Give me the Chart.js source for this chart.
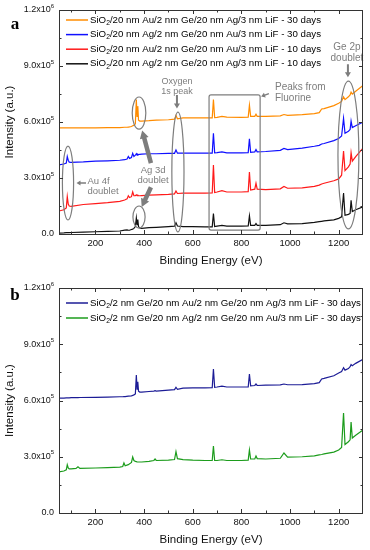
<!DOCTYPE html>
<html>
<head>
<meta charset="utf-8">
<script src="https://cdn.jsdelivr.net/npm/chart.js@4.4.1/dist/chart.umd.min.js"></script>
<style>
  html, body { margin: 0; padding: 0; background: #fff; }
  .panel { position: relative; width: 370px; }
  canvas { display: block; }
</style>
</head>
<body>
<div class="panel" style="height:270px"><canvas id="chartA"></canvas></div>
<div class="panel" style="height:280px"><canvas id="chartB"></canvas></div>
<script>
// intensities are in units of 1e5 counts
const energyA = [50,70,80,84,88,92,100, 150,200,250,300, 320,330,335,340,348,353,358,364,
  368,371,374,377,382,390, 420,450,500,525,531,537,560, 600,650,680,685,690,700,720,740,
  800,828,833,838,855,860,865, 900,960,975,990, 1050,1100,1120,1130,1140,1180,1200,
  1212,1220,1226,1240,1247,1251,1256,1270,1300];

const auAg30 = [5.68,5.68,5.68,5.68,5.68,5.68,5.68, 5.68,5.69,5.7,5.7, 5.72,5.72,5.73,5.74,5.76,5.8,5.82,5.9,
  7.2,6.3,6.85,6.1,6.05,6.05, 6.07,6.1,6.12,6.15,6.35,6.17,6.22, 6.22,6.22,6.22,7.2,6.24,6.25,6.3,6.26,
  6.25,6.26,6.9,6.3,6.3,6.42,6.3, 6.3,6.33,6.4,6.36, 6.4,6.45,6.5,6.7,6.72,6.88,7.0,
  7.1,7.35,7.2,7.35,7.45,7.6,7.5,7.65,7.95];
const agAu30 = [3.7,3.75,3.8,4.15,3.95,3.85,3.84, 3.86,3.9,3.92,3.95, 3.98,4.02,4.15,4.05,4.1,4.32,4.15,4.22,
  4.3,4.22,4.28,4.25,4.27,4.28, 4.3,4.3,4.32,4.32,4.5,4.33,4.33, 4.33,4.33,4.33,5.4,4.35,4.36,4.4,4.35,
  4.35,4.36,5.1,4.38,4.4,4.52,4.4, 4.42,4.48,4.58,4.52, 4.6,4.7,4.75,4.82,4.85,5.0,5.12,
  5.25,6.2,5.4,5.5,5.6,6.05,5.7,5.8,6.0];
const auAu10 = [1.23,1.3,1.4,2.0,1.6,1.5,1.48, 1.58,1.63,1.68,1.75, 1.82,1.88,2.05,1.95,2.0,2.25,2.05,2.05,
  2.1,2.06,2.08,2.06,2.05,2.06, 2.08,2.1,2.12,2.15,2.3,2.17,2.19, 2.19,2.19,2.2,3.7,2.22,2.25,2.32,2.25,
  2.25,2.27,3.32,2.35,2.4,2.72,2.4, 2.38,2.42,2.55,2.45, 2.47,2.55,2.62,2.68,2.72,2.85,2.95,
  3.15,4.45,3.4,3.6,3.75,4.35,3.9,4.15,4.6];
const agAg10 = [0.05,0.06,0.07,0.07,0.07,0.07,0.08, 0.1,0.12,0.14,0.16, 0.21,0.22,0.2,0.2,0.24,0.26,0.3,0.4,
  0.86,0.5,0.78,0.4,0.32,0.3, 0.34,0.36,0.4,0.42,0.6,0.43,0.4, 0.4,0.38,0.38,1.1,0.4,0.42,0.46,0.42,
  0.42,0.43,0.97,0.46,0.46,0.56,0.46, 0.46,0.5,0.6,0.54, 0.56,0.62,0.66,0.68,0.7,0.76,0.84,
  0.92,2.2,1.0,1.05,1.1,1.8,1.2,1.3,1.45];

const energyB = [50,70,80,84,88,92,100, 120,128,136, 200,250,300, 312,317,322,335,348,353,358,364,
  368,371,374,377,382,390, 420,440,445,450, 500,525,531,537,560, 600,650,680,685,690,700,720,740,
  800,828,833,838,855,860,865, 900,960,975,990, 1050,1100,1120,1130,1140,1180,1200,
  1212,1220,1226,1240,1247,1251,1256,1270,1300];

const geAuGeAg = [6.13,6.13,6.14,6.14,6.14,6.14,6.15, 6.15,6.15,6.16, 6.17,6.18,6.2, 6.2,6.21,6.21,6.23,6.25,6.27,6.3,6.35,
  7.36,6.6,7.0,6.5,6.45,6.45, 6.48,6.5,6.52,6.5, 6.55,6.58,6.7,6.6,6.66, 6.67,6.67,6.68,7.68,6.7,6.72,6.77,6.72,
  6.72,6.72,7.41,6.78,6.8,6.88,6.8, 6.82,6.83,6.88,6.84, 6.85,6.9,6.95,7.15,7.18,7.32,7.47,
  7.55,7.75,7.62,7.7,7.8,7.92,7.85,7.98,8.2];
const geAgGeAu = [2.19,2.24,2.3,2.57,2.4,2.35,2.35, 2.38,2.46,2.38, 2.4,2.42,2.45, 2.48,2.67,2.52,2.58,2.7,2.99,2.8,2.75,
  2.74,2.73,2.73,2.72,2.72,2.72, 2.75,2.8,2.88,2.8, 2.82,2.85,3.27,2.9,2.85, 2.82,2.8,2.8,3.57,2.8,2.8,2.84,2.8,
  2.8,2.82,3.36,2.88,2.88,3.04,2.9, 2.88,2.92,3.2,2.98, 3.0,3.05,3.1,3.12,3.15,3.25,3.36,
  3.5,5.33,3.65,3.8,3.9,4.85,4.0,4.15,4.43];

const labelsA = [
  'SiO2/20 nm Au/2 nm Ge/20 nm Ag/3 nm LiF - 30 days',
  'SiO2/20 nm Ag/2 nm Ge/20 nm Au/3 nm LiF - 30 days',
  'SiO2/20 nm Au/2 nm Ge/20 nm Au/3 nm LiF - 10 days',
  'SiO2/20 nm Ag/2 nm Ge/20 nm Ag/3 nm LiF - 10 days'
];
const labelsB = [
  'SiO2/2 nm Ge/20 nm Au/2 nm Ge/20 nm Ag/3 nm LiF - 30 days',
  'SiO2/2 nm Ge/20 nm Ag/2 nm Ge/20 nm Au/3 nm LiF - 30 days'
];

const xTicks = [200, 400, 600, 800, 1000, 1200];
const xMinor = [100, 300, 500, 700, 900, 1100];
const yTicks = [0, 3, 6, 9, 12];
const yMinor = [1.5, 4.5, 7.5, 10.5];
const yTickText = ['0.0', '3.0x10', '6.0x10', '9.0x10', '1.2x10'];
const yTickExp = ['', '5', '5', '5', '6'];

// annotations of panel a, in data units (energy, intensity)
const ellipsesA = [
  {e: 87, v: 2.73, de: 23, dv: 1.98},
  {e: 379, v: 6.48, de: 28, dv: 0.86},
  {e: 379, v: 0.91, de: 25, dv: 0.59},
  {e: 539, v: 3.32, de: 25, dv: 3.21},
  {e: 1240, v: 4.23, de: 43, dv: 3.96}
];
const boxA = {e0: 667, e1: 877, v0: 0.21, v1: 7.45};
const notesA = [
  {lines: ['Oxygen', '1s peak'], e: 535, v: 8.16, size: 9, align: 'center'},
  {lines: ['Peaks from', 'Fluorine'], e: 938, v: 7.84, size: 10, align: 'left'},
  {lines: ['Ge 2p', 'doublet'], e: 1234, v: 9.98, size: 10, align: 'center'},
  {lines: ['Au 4f', 'doublet'], e: 167, v: 2.82, size: 9.5, align: 'left'},
  {lines: ['Ag 3d', 'doublet'], e: 437, v: 3.4, size: 9.5, align: 'center'}
];
const arrowsA = [
  {e0: 161, v0: 2.73, e1: 122, v1: 2.73, w: 1.6, hw: 5, hl: 4},
  {e0: 535, v0: 7.45, e1: 535, v1: 6.72, w: 2, hw: 6, hl: 5},
  {e0: 913, v0: 7.52, e1: 881, v1: 7.36, w: 1.4, hw: 5, hl: 4},
  {e0: 1238, v0: 9.1, e1: 1238, v1: 8.4, w: 2, hw: 6, hl: 5},
  {e0: 428, v0: 3.8, e1: 392, v1: 5.55, w: 4.5, hw: 9, hl: 8},
  {e0: 428, v0: 2.5, e1: 390, v1: 1.45, w: 4.5, hw: 9, hl: 8}
];

const FONT = '"Liberation Sans", Arial, sans-serif';
const GREY = '#7d7d7d';

function drawLabel(ctx, text, x, y, size) {
  // SiO2 with subscript 2
  const rest = text.slice(4);
  ctx.font = size + 'px ' + FONT;
  ctx.fillText('SiO', x, y);
  x += ctx.measureText('SiO').width;
  ctx.font = (size * 0.7) + 'px ' + FONT;
  ctx.fillText('2', x, y + 3);
  x += ctx.measureText('2').width;
  ctx.font = size + 'px ' + FONT;
  ctx.fillText(rest, x, y);
}

function arrow(ctx, x0, y0, x1, y1, w, hw, hl) {
  const ang = Math.atan2(y1 - y0, x1 - x0);
  const len = Math.hypot(x1 - x0, y1 - y0);
  ctx.save();
  ctx.translate(x0, y0);
  ctx.rotate(ang);
  ctx.beginPath();
  ctx.moveTo(0, -w / 2);
  ctx.lineTo(len - hl, -w / 2);
  ctx.lineTo(len - hl, -hw / 2);
  ctx.lineTo(len, 0);
  ctx.lineTo(len - hl, hw / 2);
  ctx.lineTo(len - hl, w / 2);
  ctx.lineTo(0, w / 2);
  ctx.closePath();
  ctx.fill();
  ctx.restore();
}

function decoPlugin(cfg) {
  return {
    id: 'deco',
    afterDatasetsDraw(chart) {
      const ctx = chart.ctx;
      const a = chart.chartArea;
      const x = chart.scales.x, y = chart.scales.y;
      ctx.save();

      // annotations
      if (cfg.notes) {
        ctx.strokeStyle = GREY;
        ctx.fillStyle = GREY;
        ctx.lineWidth = 1.2;
        cfg.ellipses.forEach(el => {
          const cx = x.getPixelForValue(el.e), cy = y.getPixelForValue(el.v);
          const rx = x.getPixelForValue(el.e + el.de) - cx;
          const ry = cy - y.getPixelForValue(el.v + el.dv);
          ctx.beginPath();
          ctx.ellipse(cx, cy, rx, ry, 0, 0, Math.PI * 2);
          ctx.stroke();
        });
        const b = cfg.box;
        const bx0 = x.getPixelForValue(b.e0), bx1 = x.getPixelForValue(b.e1);
        const by0 = y.getPixelForValue(b.v1), by1 = y.getPixelForValue(b.v0);
        ctx.beginPath();
        ctx.roundRect(bx0, by0, bx1 - bx0, by1 - by0, 2);
        ctx.stroke();
        cfg.arrows.forEach(ar => {
          arrow(ctx, x.getPixelForValue(ar.e0), y.getPixelForValue(ar.v0),
            x.getPixelForValue(ar.e1), y.getPixelForValue(ar.v1), ar.w, ar.hw, ar.hl);
        });
        ctx.textBaseline = 'middle';
        cfg.notes.forEach(n => {
          ctx.font = n.size + 'px ' + FONT;
          ctx.textAlign = n.align;
          const px = x.getPixelForValue(n.e), py = y.getPixelForValue(n.v);
          n.lines.forEach((t, i) => ctx.fillText(t, px, py + i * (n.size + 0.5)));
        });
      }

      // frame
      ctx.strokeStyle = '#333';
      ctx.lineWidth = 1;
      ctx.strokeRect(Math.round(a.left) + 0.5, Math.round(a.top) + 0.5,
        Math.round(a.right - a.left) - 1, Math.round(a.bottom - a.top));

      // ticks, inward on all four sides
      const tx = (v, len) => {
        const px = Math.round(x.getPixelForValue(v)) + 0.5;
        ctx.beginPath();
        ctx.moveTo(px, a.bottom); ctx.lineTo(px, a.bottom - len);
        ctx.moveTo(px, a.top); ctx.lineTo(px, a.top + len);
        ctx.stroke();
      };
      const ty = (v, len) => {
        const py = Math.round(y.getPixelForValue(v)) + 0.5;
        ctx.beginPath();
        ctx.moveTo(a.left, py); ctx.lineTo(a.left + len, py);
        ctx.moveTo(a.right, py); ctx.lineTo(a.right - len, py);
        ctx.stroke();
      };
      xTicks.forEach(v => tx(v, 4));
      xMinor.forEach(v => tx(v, 2.5));
      yTicks.forEach(v => ty(v, 4));
      yMinor.forEach(v => ty(v, 2.5));

      // tick labels
      ctx.fillStyle = '#111';
      ctx.textBaseline = 'middle';
      ctx.textAlign = 'center';
      ctx.font = '9.5px ' + FONT;
      xTicks.forEach(v => ctx.fillText(String(v), x.getPixelForValue(v), a.bottom + 9.5));
      yTicks.forEach((v, i) => {
        const py = y.getPixelForValue(v);
        ctx.font = '6px ' + FONT;
        const ew = yTickExp[i] ? ctx.measureText(yTickExp[i]).width : 0;
        const right = a.left - 5;
        ctx.textAlign = 'left';
        if (ew) ctx.fillText(yTickExp[i], right - ew, py - 4);
        ctx.font = '9px ' + FONT;
        ctx.textAlign = 'right';
        ctx.fillText(yTickText[i], right - ew, py);
      });

      // axis titles
      ctx.font = '11.5px ' + FONT;
      ctx.textAlign = 'center';
      ctx.fillText('Binding Energy (eV)', (a.left + a.right) / 2, a.bottom + 26.5);
      ctx.save();
      ctx.translate(10, (a.top + a.bottom) / 2);
      ctx.rotate(-Math.PI / 2);
      ctx.fillText('Intensity (a.u.)', 0, 0);
      ctx.restore();

      // panel letter
      ctx.font = 'bold 17px "Liberation Serif", serif';
      ctx.fillStyle = '#000';
      ctx.fillText(cfg.letter, 15, cfg.letterY);

      // legend
      ctx.textAlign = 'left';
      chart.data.datasets.forEach((ds, i) => {
        const ly = a.top + cfg.legendTop + i * cfg.legendStep;
        ctx.strokeStyle = ds.borderColor;
        ctx.lineWidth = 1.5;
        ctx.beginPath();
        ctx.moveTo(a.left + 7, ly); ctx.lineTo(a.left + 29, ly);
        ctx.stroke();
        ctx.fillStyle = '#000';
        drawLabel(ctx, ds.label, a.left + 31, ly, 9.7);
      });
      ctx.restore();
    }
  };
}

function makeChart(id, energy, series, labels, colors, padding, cfg) {
  return new Chart(document.getElementById(id), {
    type: 'line',
    data: {
      datasets: series.map((vals, k) => ({
        label: labels[k],
        data: energy.map((e, i) => ({x: e, y: vals[i]})),
        borderColor: colors[k],
        borderWidth: 1.2,
        pointRadius: 0,
        tension: 0
      }))
    },
    options: {
      responsive: true,
      maintainAspectRatio: false,
      animation: false,
      layout: {padding: padding},
      plugins: {legend: {display: false}, tooltip: {enabled: false}},
      scales: {
        x: {type: 'linear', min: 50, max: 1300, display: false},
        y: {min: 0, max: 12, display: false}
      }
    },
    plugins: [decoPlugin(cfg)]
  });
}

makeChart('chartA', energyA, [auAg30, agAu30, auAu10, agAg10], labelsA,
  ['#ff8c00', '#1010ff', '#ff1a1a', '#111111'],
  {left: 59, top: 10, right: 7, bottom: 36},
  {letter: 'a', letterY: 25, legendTop: 10, legendStep: 14.6,
   ellipses: ellipsesA, box: boxA, notes: notesA, arrows: arrowsA});

makeChart('chartB', energyB, [geAuGeAg, geAgGeAu], labelsB,
  ['#1c1c96', '#1c9c1c'],
  {left: 59, top: 18, right: 7, bottom: 37},
  {letter: 'b', letterY: 26, legendTop: 15, legendStep: 15});
</script>
</body>
</html>
